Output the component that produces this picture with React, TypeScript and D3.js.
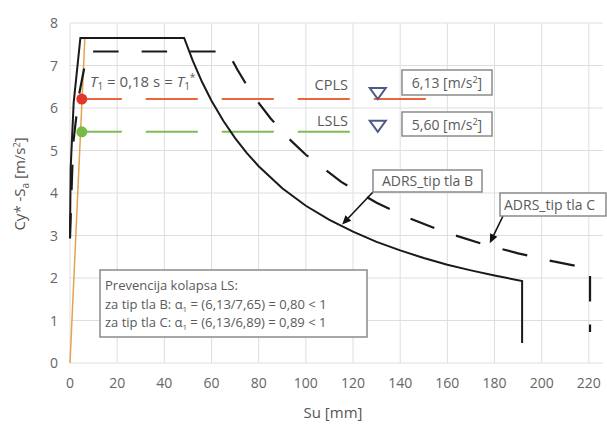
import React from "react";
import * as d3 from "d3";

const xTicks = [0, 20, 40, 60, 80, 100, 120, 140, 160, 180, 200, 220];
const yTicks = [0, 1, 2, 3, 4, 5, 6, 7, 8];

// ADRS tip tla B (solid)
const bSd = [0, 0.29, 1.55, 4.4, 48.4, 52, 56, 60, 65, 70, 75, 80, 90, 100, 110, 120, 130, 140, 150, 160, 170, 180, 191.7, 191.7];
const bSa = [3.06, 4.59, 6.12, 7.65, 7.65, 7.12, 6.61, 6.17, 5.70, 5.29, 4.94, 4.63, 4.11, 3.70, 3.37, 3.09, 2.85, 2.65, 2.47, 2.31, 2.18, 2.06, 1.93, 0.47];

// ADRS tip tla C (dashed)
const cSd = [0, 1.3, 3.55, 7.4, 66.8, 71, 75, 80, 85, 92, 100, 115, 130, 145, 160, 175, 190, 205, 220.5, 220.5];
const cSa = [2.93, 5.13, 6.23, 7.33, 7.33, 6.9, 6.53, 6.12, 5.76, 5.32, 4.9, 4.26, 3.77, 3.38, 3.06, 2.8, 2.58, 2.39, 2.22, 0.73];

// T1 line
const tSd = [0, 6.3];
const tSa = [0, 7.65];

const cplsVal = 6.21;
const lslsVal = 5.44;
const cplsEnd = 152;
const lslsEnd = 119.5;
const pointSd = 5.0;
const markerSd = 130.5;
const cFirstDashSd = 9.8;

const W = 607, H = 424;
const x = d3.scaleLinear().domain([0, 226]).range([70, 603]);
const y = d3.scaleLinear().domain([0, 8]).range([363, 23]);

const FONT = "'Open Sans', sans-serif";
const TXT = "#5a5a5a";

function pts(xs: number[], ys: number[]): [number, number][] {
  return xs.map((v, i) => [v, ys[i]]);
}

export default function App() {
  const line = d3.line<[number, number]>().x(d => x(d[0])).y(d => y(d[1]));
  const bPath = line(pts(bSd, bSa)) || "";
  const cPath = line(pts(cSd, cSa)) || "";
  const tPath = line(pts(tSd, tSa)) || "";

  // dash phase for C so the plateau dashes line up
  let len = 0;
  for (let i = 1; i <= 3; i++) {
    len += Math.hypot(x(cSd[i]) - x(cSd[i - 1]), y(cSa[i]) - y(cSa[i - 1]));
  }
  const target = len + (x(cFirstDashSd) - x(cSd[3]));
  const cDash = 25.5, cGap = 23;
  const period = cDash + cGap;
  const cOffset = period - (target % period);

  const tri = (sd: number, v: number) => {
    const cx = x(sd), by = y(v);
    return `M${cx - 8},${by - 11} L${cx + 8},${by - 11} L${cx},${by} Z`;
  };

  const arrow = (x1: number, y1: number, x2: number, y2: number) => {
    const ang = Math.atan2(y2 - y1, x2 - x1);
    const L = 9, w = 4;
    const bx = x2 - L * Math.cos(ang), by = y2 - L * Math.sin(ang);
    const px = -Math.sin(ang) * w, py = Math.cos(ang) * w;
    return (
      <g>
        <line x1={x1} y1={y1} x2={bx} y2={by} stroke="#111" strokeWidth={1.6} />
        <path d={`M${x2},${y2} L${bx + px},${by + py} L${bx - px},${by - py} Z`} fill="#111" />
      </g>
    );
  };

  return (
    <svg width={W} height={H} style={{ position: "absolute", left: 0, top: 0, background: "#fff" }} fontFamily={FONT}>
      <rect width={W} height={H} fill="#fff" />
      {/* grid */}
      {xTicks.map(t => (
        <line key={"gx" + t} x1={x(t)} x2={x(t)} y1={y(8)} y2={y(0)} stroke="#dedede" strokeWidth={1} />
      ))}
      {yTicks.map(t => (
        <line key={"gy" + t} x1={x(0)} x2={603} y1={y(t)} y2={y(t)} stroke="#dedede" strokeWidth={1} />
      ))}
      {/* tick labels */}
      {xTicks.map(t => (
        <text key={"tx" + t} x={x(t)} y={388} textAnchor="middle" fontSize={14} fill="#666">{t}</text>
      ))}
      {yTicks.map(t => (
        <text key={"ty" + t} x={58} y={y(t) + 5} textAnchor="end" fontSize={14} fill="#666">{t}</text>
      ))}
      {/* axis titles */}
      <text x={333} y={418} textAnchor="middle" fontSize={15} fill="#555">Su [mm]</text>
      <text transform="translate(25,184) rotate(-90)" textAnchor="middle" fontSize={15} fill="#555">
        Cy* -S<tspan fontSize={10} dy={4}>a</tspan><tspan dy={-4}> [m/s</tspan><tspan fontSize={9} dy={-5}>2</tspan><tspan dy={5}>]</tspan>
      </text>

      {/* limit state lines */}
      <line x1={x(pointSd)} x2={x(cplsEnd)} y1={y(cplsVal)} y2={y(cplsVal)} stroke="#e8663c" strokeWidth={2} strokeDasharray="52,24" strokeDashoffset={12} />
      <line x1={x(pointSd)} x2={x(lslsEnd)} y1={y(lslsVal)} y2={y(lslsVal)} stroke="#7dbd56" strokeWidth={2} strokeDasharray="52,24" strokeDashoffset={12} />

      {/* T1 line */}
      <path d={tPath} fill="none" stroke="#e3a452" strokeWidth={1.5} />

      {/* spectra */}
      <path d={cPath} fill="none" stroke="#1a1a1a" strokeWidth={2.2} strokeDasharray={`${cDash},${cGap}`} strokeDashoffset={cOffset} />
      <path d={bPath} fill="none" stroke="#1a1a1a" strokeWidth={2} />

      {/* points */}
      <circle cx={x(pointSd)} cy={y(cplsVal)} r={5.5} fill="#e3362a" />
      <circle cx={x(pointSd)} cy={y(lslsVal)} r={5.5} fill="#77bb46" />

      {/* triangles */}
      <path d={tri(markerSd, cplsVal)} fill="none" stroke="#4b5b85" strokeWidth={2} />
      <path d={tri(markerSd, lslsVal)} fill="none" stroke="#4b5b85" strokeWidth={2} />

      {/* labels */}
      <text x={90} y={87} fontSize={15} fill={TXT}>
        <tspan fontStyle="italic">T</tspan><tspan fontSize={10} dy={3}>1</tspan><tspan dy={-3}> = 0,18 s = </tspan>
        <tspan fontStyle="italic">T</tspan><tspan fontSize={10} dy={3}>1</tspan><tspan dy={-9} fontSize={10}>*</tspan>
      </text>
      <text x={348} y={90} textAnchor="end" fontSize={14.5} fill={TXT}>CPLS</text>
      <text x={348} y={126} textAnchor="end" fontSize={14.5} fill={TXT}>LSLS</text>

      <rect x={402} y={70} width={90} height={25} fill="#fff" stroke="#8a8a8a" strokeWidth={1.5} />
      <text x={447} y={87.5} textAnchor="middle" fontSize={14} fill={TXT}>
        6,13 [m/s<tspan fontSize={9} dy={-5}>2</tspan><tspan dy={5}>]</tspan>
      </text>
      <rect x={402} y={112} width={90} height={24} fill="#fff" stroke="#8a8a8a" strokeWidth={1.5} />
      <text x={447} y={129.5} textAnchor="middle" fontSize={14} fill={TXT}>
        5,60 [m/s<tspan fontSize={9} dy={-5}>2</tspan><tspan dy={5}>]</tspan>
      </text>

      {/* ADRS B */}
      {arrow(373, 192, x(115.4), y(3.26))}
      <rect x={373} y={170} width={109} height={22} fill="#fff" stroke="#8a8a8a" strokeWidth={1.5} />
      <text x={427.5} y={186} textAnchor="middle" fontSize={14} fill={TXT}>ADRS_tip tla B</text>

      {/* ADRS C */}
      {arrow(503, 216, x(178), y(2.82))}
      <rect x={500} y={193} width={106} height={23} fill="#fff" stroke="#8a8a8a" strokeWidth={1.5} />
      <text x={504} y={209.5} fontSize={14} fill={TXT}>ADRS_tip tla C</text>

      {/* info box */}
      <rect x={100} y={270} width={267} height={67} fill="#fff" stroke="#8a8a8a" strokeWidth={1.5} />
      <text x={105} y={290} fontSize={13} fill={TXT}>Prevencija kolapsa LS:</text>
      <text x={105} y={308.5} fontSize={13} fill={TXT}>
        za tip tla B: α<tspan fontSize={8} dy={3}>1</tspan><tspan dy={-3}> = (6,13/7,65) = 0,80 &lt; 1</tspan>
      </text>
      <text x={105} y={327} fontSize={13} fill={TXT}>
        za tip tla C: α<tspan fontSize={8} dy={3}>1</tspan><tspan dy={-3}> = (6,13/6,89) = 0,89 &lt; 1</tspan>
      </text>
    </svg>
  );
}
